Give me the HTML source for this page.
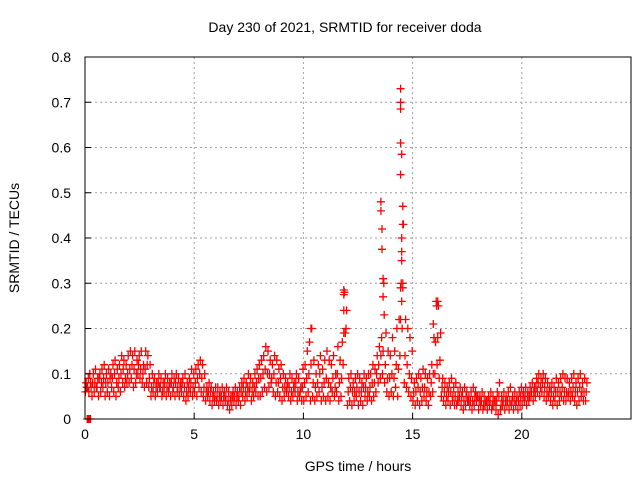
<!DOCTYPE html>
<html><head><meta charset="utf-8"><style>
body{margin:0;background:#fff}
svg{display:block;font-family:"Liberation Sans",sans-serif}
</style></head><body>
<svg id="chart" width="640" height="480" viewBox="0 0 640 480" xmlns="http://www.w3.org/2000/svg">
<rect width="640" height="480" fill="#fff"/>
<g id="grid"></g>
<g id="marks"></g>
<rect x="85" y="57" width="546" height="362" fill="none" stroke="#000" stroke-width="1"/>
<g id="ticks"></g>
<text x="345" y="32" font-size="14" text-anchor="middle">Day 230 of 2021, SRMTID for receiver doda</text>
<text x="358" y="471" font-size="14" text-anchor="middle">GPS time / hours</text>
<text transform="translate(19,238) rotate(-90)" font-size="14" text-anchor="middle">SRMTID / TECUs</text>
</svg>
<script>
const xTicks=[0,5,10,15,20];
const yTicks=[0,0.1,0.2,0.3,0.4,0.5,0.6,0.7,0.8];
const yTickLabels=["0","0.1","0.2","0.3","0.4","0.5","0.6","0.7","0.8"];
const step=0.1;
const lowVals=[.06,.07,.10,.05,.06,.07,.05,.06,.07,.05,.06,.05,.07,.06,.05,.07,.06,.08,.07,.08,.08,.09,.07,.08,.10,.09,.08,.07,.08,.07,.05,.06,.05,.06,.07,.05,.06,.05,.06,.05,.06,.05,.06,.05,.06,.05,.04,.05,.06,.05,.06,.05,.07,.06,.05,.04,.05,.04,.03,.04,.04,.03,.04,.03,.04,.03,.02,.03,.04,.03,.04,.03,.05,.04,.05,.06,.04,.05,.06,.05,.05,.06,.07,.06,.07,.08,.06,.05,.06,.05,.04,.05,.06,.05,.04,.05,.06,.04,.05,.04,.04,.05,.06,.04,.05,.04,.05,.06,.04,.05,.04,.05,.04,.06,.05,.06,.04,.05,.12,.19,.03,.04,.03,.04,.05,.03,.04,.03,.05,.04,.05,.04,.05,.06,.08,.09,.10,.08,.06,.05,.06,.05,.07,.05,.14,.20,.08,.07,.06,.05,.04,.03,.04,.03,.04,.05,.04,.03,.05,.06,.10,.12,.09,.05,.04,.03,.04,.03,.04,.03,.03,.04,.03,.02,.03,.04,.03,.02,.03,.04,.02,.03,.02,.03,.02,.03,.02,.03,.02,.01,.02,.03,.02,.03,.02,.03,.02,.03,.02,.03,.03,.04,.03,.04,.05,.04,.05,.06,.05,.06,.05,.04,.05,.04,.03,.04,.03,.04,.05,.04,.04,.05,.04,.05,.04,.03,.04,.05,.04,.04];
const midVals=[.08,.09,.08,.08,.08,.07,.09,.08,.09,.08,.08,.09,.09,.10,.08,.09,.10,.11,.09,.10,.11,.12,.11,.10,.12,.11,.10,.11,.12,.09,.07,.08,.07,.08,.07,.06,.08,.07,.07,.08,.07,.08,.07,.07,.08,.07,.06,.07,.08,.07,.08,.09,.10,.09,.07,.06,.06,.06,.05,.05,.05,.05,.05,.05,.05,.04,.04,.05,.05,.05,.05,.06,.07,.06,.07,.07,.06,.07,.08,.09,.09,.10,.11,.10,.10,.09,.10,.08,.08,.09,.07,.07,.07,.07,.06,.07,.08,.06,.06,.07,.08,.09,.10,.12,.08,.07,.08,.10,.07,.08,.09,.08,.07,.09,.07,.10,.08,.09,.19,.20,.06,.07,.06,.06,.07,.06,.06,.07,.07,.06,.07,.08,.08,.10,.12,.14,.15,.12,.09,.09,.10,.09,.12,.11,.22,.29,.14,.12,.10,.09,.06,.06,.07,.06,.07,.07,.06,.06,.08,.10,.17,.18,.13,.07,.06,.05,.06,.06,.05,.05,.04,.05,.05,.04,.05,.04,.04,.04,.05,.05,.04,.04,.03,.04,.04,.04,.03,.04,.04,.05,.03,.04,.04,.04,.04,.04,.04,.04,.04,.05,.05,.05,.05,.05,.06,.06,.07,.08,.07,.08,.07,.06,.06,.06,.05,.06,.06,.06,.07,.06,.06,.06,.06,.07,.06,.06,.07,.06,.06,.06];
const highVals=[.07,.06,.07,.10,.11,.09,.10,.11,.12,.10,.11,.10,.12,.13,.11,.12,.14,.13,.12,.14,.15,.14,.15,.13,.14,.15,.12,.15,.14,.12,.10,.09,.08,.10,.09,.08,.10,.09,.08,.10,.09,.10,.09,.08,.09,.10,.08,.09,.11,.10,.11,.12,.13,.12,.10,.07,.08,.07,.06,.07,.07,.06,.07,.06,.07,.06,.05,.06,.07,.06,.07,.08,.09,.08,.10,.09,.08,.10,.11,.12,.13,.14,.16,.15,.13,.12,.14,.13,.11,.12,.10,.09,.08,.10,.09,.08,.10,.09,.07,.11,.12,.15,.17,.20,.13,.10,.12,.14,.11,.13,.15,.13,.12,.14,.10,.16,.13,.17,.28,.24,.09,.10,.08,.09,.10,.09,.08,.10,.09,.10,.10,.12,.11,.14,.16,.18,.30,.19,.15,.14,.18,.15,.20,.22,.30,.43,.22,.20,.18,.15,.08,.09,.10,.09,.11,.10,.09,.10,.12,.18,.26,.25,.19,.09,.08,.07,.08,.09,.07,.08,.06,.07,.06,.07,.06,.05,.06,.07,.06,.05,.05,.06,.05,.04,.05,.06,.05,.04,.06,.08,.05,.06,.05,.06,.07,.05,.06,.05,.06,.07,.06,.07,.06,.07,.08,.07,.09,.10,.09,.10,.09,.08,.07,.08,.07,.09,.08,.09,.10,.09,.09,.08,.09,.10,.08,.09,.10,.08,.09,.08];
const spikeTimes=[13.55,13.55,13.6,13.6,13.65,13.65,13.7,11.85,11.85,11.85,14.45,14.45,14.45,14.45,14.5,14.45,14.55,14.55,14.5,14.5,14.5,14.55,14.45,14.5,16.15,16.1,15.95,10.35,0.1,0.15,0.2,0.25];
const spikeVals=[.48,.46,.42,.375,.31,.27,.23,.285,.275,.24,.73,.70,.685,.61,.585,.54,.47,.43,.40,.37,.35,.30,.29,.26,.26,.25,.21,.20,0,0,0,0];

const X0=85,X1=631,Y0=419,Y1=57;
const xs=t=>X0+(t/25)*(X1-X0);
const ys=v=>Y0-(v/0.8)*(Y0-Y1);
const NS="http://www.w3.org/2000/svg";
const grid=document.getElementById('grid'),ticks=document.getElementById('ticks'),marks=document.getElementById('marks');
function mk(tag,attrs,parent){const e=document.createElementNS(NS,tag);for(const k in attrs)e.setAttribute(k,attrs[k]);parent.appendChild(e);return e;}
xTicks.forEach(t=>{
  const x=xs(t);
  if(t>0){const g=mk('line',{x1:x,x2:x,y1:Y0,y2:Y1,stroke:'#a0a0a0','stroke-dasharray':'2,3'},grid);
  
  }
  const tk=mk('line',{x1:x,x2:x,y1:Y0,y2:Y0-6,stroke:'#000'},ticks);
  
  
  const l=mk('text',{x:x,y:Y0+20,'font-size':14,'text-anchor':'middle'},ticks);l.textContent=t;
  
  
});
yTicks.forEach((v,i)=>{
  const y=ys(v);
  if(v>0&&v<0.8){const g=mk('line',{x1:X0,x2:X1,y1:y,y2:y,stroke:'#a0a0a0','stroke-dasharray':'2,3'},grid);
  
  }
  const tk=mk('line',{x1:X0,x2:X0+6,y1:y,y2:y,stroke:'#000'},ticks);
  
  
  const l=mk('text',{x:X0-14,y:y+5,'font-size':14,'text-anchor':'end'},ticks);l.textContent=yTickLabels[i];
  
  
});
let d='';
function plus(t,v){const x=xs(t),y=ys(v);d+=`M${(x-4).toFixed(1)} ${y.toFixed(1)}h8M${x.toFixed(1)} ${(y-4).toFixed(1)}v8`;}
const offs=[0.02,0.05,0.08];
[lowVals,midVals,highVals].forEach((arr,k)=>arr.forEach((v,i)=>plus(i*step+offs[k],v)));
spikeTimes.forEach((t,i)=>plus(t,spikeVals[i]));
const p=mk('path',{d:d,stroke:'#ff0000','stroke-width':1.3,fill:'none'},marks);


</script>
</body></html>
